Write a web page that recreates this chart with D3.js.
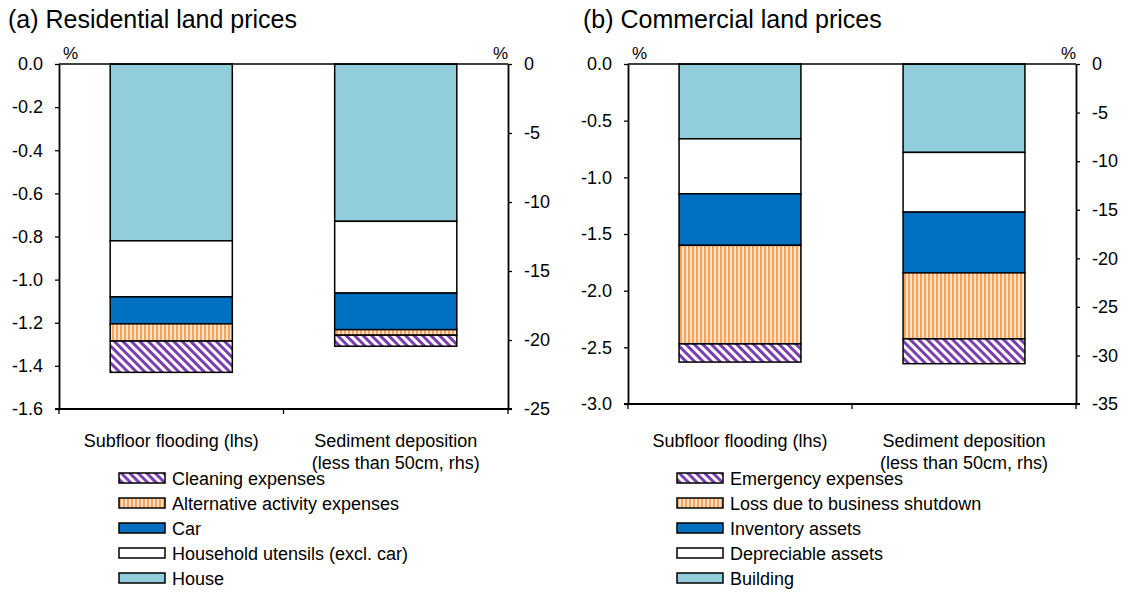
<!DOCTYPE html>
<html>
<head>
<meta charset="utf-8">
<script src="https://cdn.jsdelivr.net/npm/d3@7"></script>
<style>
  body { margin: 0; background: #fff; }
  svg text { font-family: "Liberation Sans", Arial, sans-serif; fill: #000; }
</style>
</head>
<body>
<div id="chart"></div>
<script>
// categories on the x axis (second one uses the right-hand scale)
var categories = ["Subfloor flooding (lhs)", "Sediment deposition|(less than 50cm, rhs)"];

// (a) residential, components from the zero line downwards
var resKeys = ["House", "Household utensils (excl. car)", "Car", "Alternative activity expenses", "Cleaning expenses"];
var resSubfloor = [-0.82, -0.26, -0.125, -0.08, -0.145];   // lhs, %
var resSediment = [-11.4, -5.2, -2.65, -0.4, -0.8];         // rhs, %
var resLhsTicks = [0, -0.2, -0.4, -0.6, -0.8, -1.0, -1.2, -1.4, -1.6];
var resRhsTicks = [0, -5, -10, -15, -20, -25];

// (b) commercial
var comKeys = ["Building", "Depreciable assets", "Inventory assets", "Loss due to business shutdown", "Emergency expenses"];
var comSubfloor = [-0.66, -0.485, -0.455, -0.87, -0.16];
var comSediment = [-9.1, -6.15, -6.25, -6.8, -2.55];
var comLhsTicks = [0, -0.5, -1.0, -1.5, -2.0, -2.5, -3.0];
var comRhsTicks = [0, -5, -10, -15, -20, -25, -30, -35];

var fills = ["#92cddc", "#ffffff", "#0070c0", "url(#vstripe)", "url(#dstripe)"];

var svg = d3.select("#chart").append("svg")
    .attr("width", 1127)
    .attr("height", 595);

// patterns
var defs = svg.append("defs");
var vp = defs.append("pattern").attr("id", "vstripe")
    .attr("patternUnits", "userSpaceOnUse").attr("width", 4).attr("height", 4);
vp.append("rect").attr("width", 4).attr("height", 4).attr("fill", "#fde3cc");
vp.append("rect").attr("width", 2).attr("height", 4).attr("fill", "#f9a25a");

var dp = defs.append("pattern").attr("id", "dstripe")
    .attr("patternUnits", "userSpaceOnUse").attr("width", 6).attr("height", 6)
    .attr("patternTransform", "rotate(-45)");
dp.append("rect").attr("width", 6).attr("height", 6).attr("fill", "#ffffff");
dp.append("rect").attr("width", 3).attr("height", 6).attr("fill", "#7a3fae");

function drawPanel(opt) {
    var g = svg.append("g");

    var x = d3.scaleBand()
        .domain(categories)
        .range([opt.x0, opt.x1])
        .paddingInner(0.456)
        .paddingOuter(0.228);

    var yL = d3.scaleLinear().domain([0, opt.lhsTicks[opt.lhsTicks.length - 1]]).range([opt.top, opt.bottom]);
    var yR = d3.scaleLinear().domain([0, opt.rhsTicks[opt.rhsTicks.length - 1]]).range([opt.top, opt.bottom]);

    // title
    g.append("text")
        .attr("x", opt.titleX)
        .attr("y", 28)
        .style("font-size", "25px")
        .text(opt.title);

    // bars
    var series = [opt.lhs, opt.rhs];
    var scales = [yL, yR];
    series.forEach(function(vals, ci) {
        var ends = d3.cumsum(vals);
        var segs = vals.map(function(v, i) {
            return { key: opt.keys[i], y0: i === 0 ? 0 : ends[i - 1], y1: ends[i], fill: fills[i] };
        });
        g.selectAll(".seg" + ci)
            .data(segs)
            .enter().append("rect")
            .attr("x", x(categories[ci]))
            .attr("width", x.bandwidth())
            .attr("y", function(d) { return scales[ci](d.y0); })
            .attr("height", function(d) { return scales[ci](d.y1) - scales[ci](d.y0); })
            .attr("fill", function(d) { return d.fill; })
            .attr("stroke", "#000")
            .attr("stroke-width", 1.5);
    });

    // axes
    var axL = g.append("g")
        .attr("transform", "translate(" + opt.x0 + ",0)")
        .call(d3.axisLeft(yL).tickValues(opt.lhsTicks).tickSize(4).tickSizeOuter(0).tickPadding(12)
            .tickFormat(function(d) { return d.toFixed(1); }));
    var axR = g.append("g")
        .attr("transform", "translate(" + opt.x1 + ",0)")
        .call(d3.axisRight(yR).tickValues(opt.rhsTicks).tickSize(4).tickSizeOuter(0).tickPadding(12)
            .tickFormat(function(d) { return String(d); }));
    [axL, axR].forEach(function(ax) {
        ax.selectAll("text").style("font-size", "18px").attr("fill", "#000");
        ax.selectAll("line").attr("stroke", "#000").attr("stroke-width", 1.3);
        ax.select(".domain").attr("stroke", "#000").attr("stroke-width", 1.8);
    });

    // zero line and bottom category axis
    g.append("line")
        .attr("x1", opt.x0).attr("x2", opt.x1)
        .attr("y1", yL(0)).attr("y2", yL(0))
        .attr("stroke", "#000").attr("stroke-width", 1.5);
    var axB = g.append("g")
        .attr("transform", "translate(0," + opt.bottom + ")");
    axB.append("line")
        .attr("x1", opt.x0 - 4).attr("x2", opt.x1 + 4)
        .attr("stroke", "#000").attr("stroke-width", 1.8);
    axB.selectAll(".btick")
        .data([opt.x0, (x(categories[0]) + x.bandwidth() + x(categories[1])) / 2, opt.x1])
        .enter().append("line")
        .attr("x1", function(d) { return d; }).attr("x2", function(d) { return d; })
        .attr("y1", 0).attr("y2", 5)
        .attr("stroke", "#000").attr("stroke-width", 1.3);

    // category labels
    categories.forEach(function(c) {
        var t = g.append("text")
            .attr("text-anchor", "middle")
            .style("font-size", "18px")
            .attr("y", 447);
        c.split("|").forEach(function(line, i) {
            t.append("tspan")
                .attr("x", x(c) + x.bandwidth() / 2)
                .attr("dy", i === 0 ? 0 : 22)
                .text(line);
        });
    });

    // % units
    g.append("text").attr("x", opt.x0 + 4).attr("y", 59).style("font-size", "17px").text("%");
    g.append("text").attr("x", opt.x1).attr("y", 59).attr("text-anchor", "end").style("font-size", "17px").text("%");

    // legend (reverse order: bottom segment first)
    var items = opt.keys.map(function(k, i) { return { key: k, fill: fills[i] }; }).reverse();
    var legend = g.selectAll(".legend")
        .data(items)
        .enter().append("g")
        .attr("transform", function(d, i) { return "translate(" + opt.legendX + "," + (473 + i * 25) + ")"; });
    legend.append("rect")
        .attr("width", 46)
        .attr("height", 10)
        .attr("fill", function(d) { return d.fill; })
        .attr("stroke", "#000")
        .attr("stroke-width", 1.5);
    legend.append("text")
        .attr("x", 53)
        .attr("y", 12)
        .style("font-size", "18px")
        .text(function(d) { return d.key; });
}

drawPanel({
    title: "(a) Residential land prices", titleX: 8,
    x0: 59, x1: 508, top: 64, bottom: 409,
    keys: resKeys, lhs: resSubfloor, rhs: resSediment,
    lhsTicks: resLhsTicks, rhsTicks: resRhsTicks,
    legendX: 119
});
drawPanel({
    title: "(b) Commercial land prices", titleX: 583,
    x0: 628, x1: 1076, top: 64, bottom: 404,
    keys: comKeys, lhs: comSubfloor, rhs: comSediment,
    lhsTicks: comLhsTicks, rhsTicks: comRhsTicks,
    legendX: 677
});
</script>
</body>
</html>
